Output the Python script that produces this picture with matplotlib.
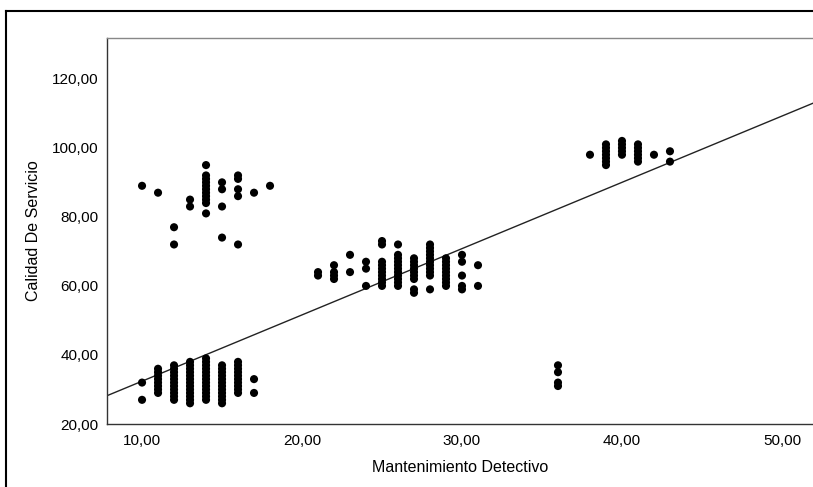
import numpy as np
import matplotlib
matplotlib.use('Agg')
import matplotlib.pyplot as plt
from matplotlib.lines import Line2D
from matplotlib.ticker import FuncFormatter

plt.rcParams['font.family'] = ['Liberation Sans', 'DejaVu Sans']

# points, one list of y values per x column
mantenimiento = [10, 11, 12, 13, 14, 15, 16, 17, 18,
                 21, 22, 23, 24, 25, 26, 27, 28, 29, 30, 31,
                 36, 38, 39, 40, 41, 42, 43]
calidad = [
    [89, 32, 27],
    [87, 29, 30, 31, 32, 33, 34, 35, 36],
    [77, 72, 28, 29, 30, 31, 32, 33, 34, 35, 36, 37, 27],
    [85, 83, 26, 27, 28, 29, 30, 31, 32, 33, 34, 35, 36, 37, 38],
    [95, 84, 85, 86, 87, 88, 89, 90, 91, 92, 81,
     27, 28, 29, 30, 31, 32, 33, 34, 35, 36, 37, 38, 39],
    [90, 88, 83, 74, 26, 27, 28, 29, 30, 31, 32, 33, 34, 35, 36, 37],
    [92, 91, 88, 86, 72, 29, 30, 31, 32, 33, 34, 35, 36, 37, 38],
    [87, 33, 29],
    [89],
    [63, 64],
    [62, 63, 64, 66],
    [69, 64],
    [67, 65, 60],
    [73, 72, 60, 61, 62, 63, 64, 65, 66, 67],
    [72, 60, 61, 62, 63, 64, 65, 66, 67, 68, 69],
    [68, 67, 66, 65, 64, 63, 62, 59, 58],
    [72, 71, 70, 69, 68, 67, 66, 65, 64, 63, 59],
    [68, 67, 66, 65, 64, 63, 62, 61, 60],
    [69, 67, 63, 60, 59],
    [66, 60],
    [37, 35, 32, 31],
    [98],
    [95, 96, 97, 98, 99, 100, 101],
    [98, 99, 100, 101, 102],
    [96, 97, 98, 99, 100, 101],
    [98],
    [99, 96],
]

# fitted line
intercepto = 13.2
pendiente = 1.92

x = np.concatenate([[m] * len(c) for m, c in zip(mantenimiento, calidad)])
y = np.concatenate(calidad)

fig = plt.figure(figsize=(8.13, 4.87), dpi=100)
ax = fig.add_axes([107 / 813, 1 - 424 / 487, 1 - 107 / 813, (424 - 37.7) / 487])

ax.scatter(x, y, s=34, color='black', edgecolors='none', zorder=3)

xlim = (7.81, 51.94)
xs = np.array(xlim)
ax.plot(xs, intercepto + pendiente * xs, color='#222222', lw=1.0, zorder=2)

ax.set_xlim(*xlim)
ax.set_ylim(20, 131.9)
ax.set_xticks([10, 20, 30, 40, 50])
ax.set_yticks([20, 40, 60, 80, 100, 120])
fmt = FuncFormatter(lambda v, p: f'{v:.2f}'.replace('.', ','))
ax.xaxis.set_major_formatter(fmt)
ax.yaxis.set_major_formatter(fmt)
ax.tick_params(axis='both', length=0, labelsize=11, colors='black')
ax.tick_params(axis='x', pad=7)
ax.tick_params(axis='y', pad=6)

ax.spines['right'].set_visible(False)
ax.spines['top'].set_color('#888888')
ax.spines['left'].set_color('#333333')
ax.spines['bottom'].set_color('#333333')
for s in ax.spines.values():
    s.set_linewidth(1.0)

ax.set_xlabel('Mantenimiento Detectivo', fontsize=11.5, labelpad=9)
ax.set_ylabel('Calidad De Servicio', fontsize=11.5, labelpad=8)

# outer frame (left and top edges visible)
fig.add_artist(Line2D([6 / 813, 6 / 813], [0, 1 - 11 / 487], transform=fig.transFigure,
                      color='black', lw=1.5))
fig.add_artist(Line2D([6 / 813, 1], [1 - 11 / 487, 1 - 11 / 487], transform=fig.transFigure,
                      color='black', lw=1.5))

fig.savefig('out.png', dpi=100)
